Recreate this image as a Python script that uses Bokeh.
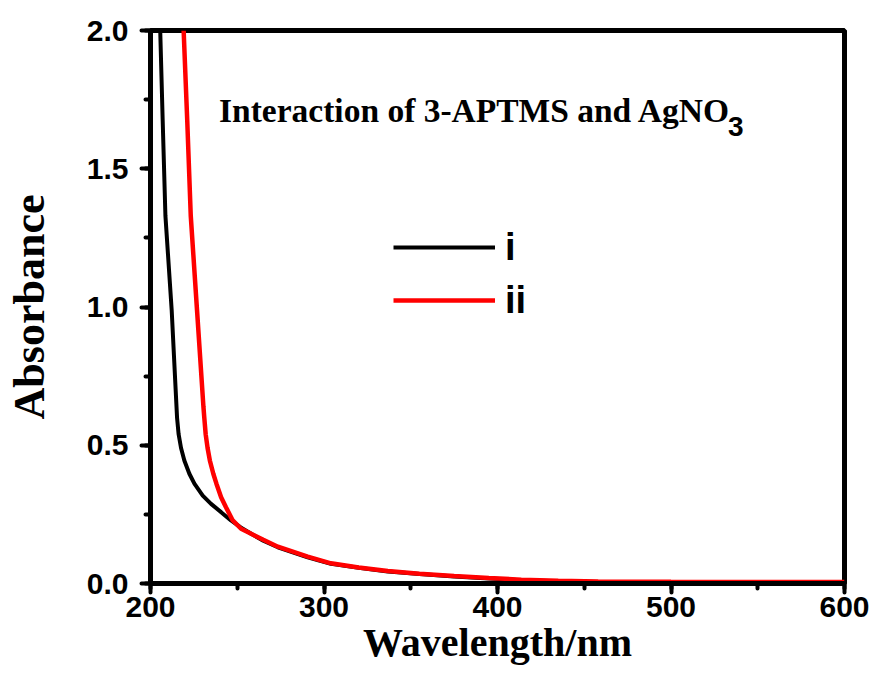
import math
from bokeh.plotting import figure
from bokeh.models import (Range1d, SingleIntervalTicker, Label, Legend, LegendItem,
                          CustomJSTickFormatter)
from bokeh.embed import file_html
from bokeh.resources import INLINE

# ---- data ----
wavelength_i = [205.6, 207.0, 208.6, 212.2, 214.5, 215.3, 216.2, 217.6, 219.5, 222.4,
                225.3, 230.1, 234.9, 240.7, 246.4, 252.0, 258.0, 265.0, 273.4, 290.6,
                304.0, 320.0, 336.8, 355.0, 375.0, 395.0, 413.7, 435.0, 458.0, 500.0,
                550.0, 600.0]
absorbance_i = [2.00, 1.68, 1.33, 0.99, 0.70, 0.60, 0.54, 0.49, 0.445, 0.397,
                0.361, 0.318, 0.288, 0.258, 0.228, 0.203, 0.180, 0.155, 0.131, 0.095,
                0.071, 0.057, 0.043, 0.034, 0.025, 0.018, 0.012, 0.008, 0.005, 0.003,
                0.002, 0.001]

wavelength_ii = [219.1, 221.2, 223.2, 226.8, 230.5, 231.0, 231.8, 232.9, 234.2, 236.2,
                 238.0, 240.7, 243.5, 247.4, 252.2, 258.0, 265.0, 273.4, 290.6, 304.0,
                 320.0, 336.8, 355.0, 375.0, 395.0, 413.7, 435.0, 458.0, 500.0, 550.0,
                 600.0]
absorbance_ii = [2.00, 1.67, 1.33, 0.99, 0.64, 0.60, 0.54, 0.49, 0.445, 0.397,
                 0.361, 0.312, 0.276, 0.228, 0.198, 0.180, 0.158, 0.133, 0.097, 0.073,
                 0.058, 0.045, 0.035, 0.027, 0.020, 0.014, 0.010, 0.007, 0.006, 0.005,
                 0.005]

series_labels = ["i", "ii"]
title_text = "Interaction of 3-APTMS and AgNO"
title_sub = "3"
x_label = "Wavelength/nm"
y_label = "Absorbance"

SERIF = "Liberation Serif"
SANS = "Liberation Sans"

p = figure(width=876, height=675, output_backend="svg", toolbar_location=None,
           x_range=Range1d(200, 600), y_range=Range1d(0, 2.0),
           min_border_left=150, min_border_right=32, min_border_top=30,
           min_border_bottom=92)
p.background_fill_color = "white"
p.border_fill_color = "white"
p.grid.visible = False
p.outline_line_color = "black"
p.outline_line_width = 5

p.xaxis.ticker = SingleIntervalTicker(interval=100, num_minor_ticks=2)
p.yaxis.ticker = SingleIntervalTicker(interval=0.5, num_minor_ticks=2)
p.yaxis.formatter = CustomJSTickFormatter(code="return tick.toFixed(1);")

for ax in (p.xaxis[0], p.yaxis[0]):
    ax.axis_line_width = 5
    ax.axis_line_color = "black"
    ax.major_tick_line_width = 4
    ax.minor_tick_line_width = 4
    ax.major_tick_line_cap = "round"
    ax.minor_tick_line_cap = "round"
    ax.major_tick_out = 9
    ax.major_tick_in = 0
    ax.minor_tick_out = 5
    ax.minor_tick_in = 0
    ax.major_label_text_font = SANS
    ax.major_label_text_font_style = "bold"
    ax.major_label_text_font_size = "30px"
    ax.major_label_text_color = "black"
    ax.axis_label_text_font = SERIF
    ax.axis_label_text_font_style = "bold"
    ax.axis_label_text_color = "black"

p.xaxis.major_label_standoff = 4
p.yaxis.major_label_standoff = 13
p.xaxis.axis_label = x_label
p.xaxis.axis_label_text_font_size = "40px"
p.xaxis.axis_label_standoff = 0
p.yaxis.axis_label = y_label
p.yaxis.axis_label_text_font_size = "44px"
p.yaxis.axis_label_standoff = 30

r_i = p.line(wavelength_i, absorbance_i, line_color="black", line_width=4)
r_ii = p.line(wavelength_ii, absorbance_ii, line_color="#ff0000", line_width=4.5)

legend = Legend(items=[LegendItem(label=series_labels[0], renderers=[r_i]),
                       LegendItem(label=series_labels[1], renderers=[r_ii])],
                location=(243, 261), glyph_width=102, glyph_height=44,
                label_height=44, spacing=9, padding=0, margin=0,
                label_standoff=10, label_text_font=SANS,
                label_text_font_style="bold", label_text_font_size="38px",
                label_text_color="black",
                border_line_alpha=0, background_fill_alpha=0)
p.add_layout(legend, "center")

# title inside plot
p.add_layout(Label(x=68.5, y=473, x_units="screen", y_units="screen",
                   text=title_text, text_font=SERIF, text_font_style="bold",
                   text_font_size="33.5px", text_align="left",
                   text_baseline="alphabetic", text_color="black"))
p.add_layout(Label(x=577.5, y=457, x_units="screen", y_units="screen",
                   text=title_sub, text_font=SANS, text_font_style="bold",
                   text_font_size="28px", text_align="left",
                   text_baseline="alphabetic", text_color="black"))

open("out.html", "w").write(file_html(p, INLINE))
